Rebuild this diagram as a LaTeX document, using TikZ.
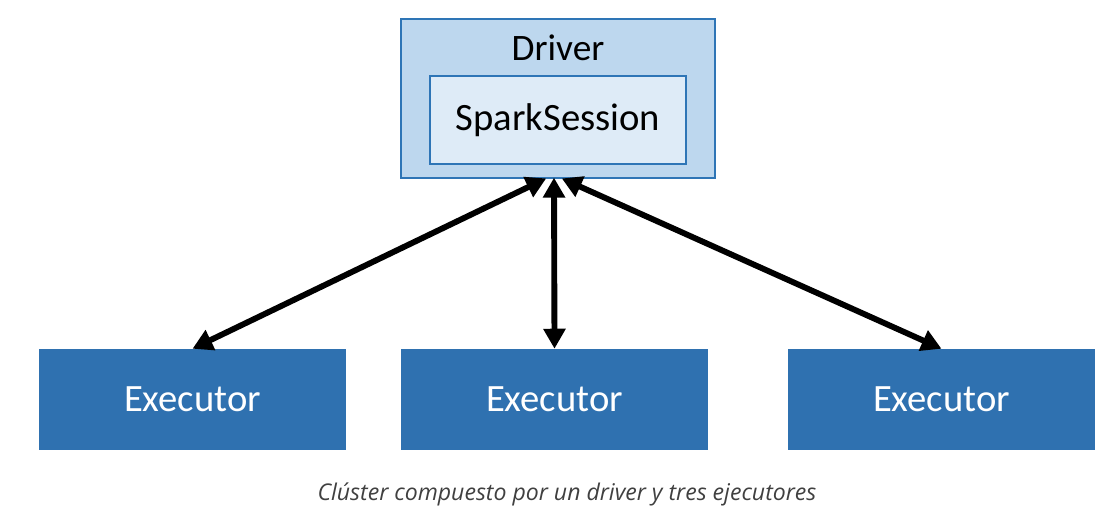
\documentclass[tikz,border=0pt]{standalone}
\usepackage{fontspec}
\setmainfont{Carlito}
\newfontfamily\capfont{Open Sans}
\usetikzlibrary{arrows.meta}
\definecolor{drvfill}{HTML}{BDD7EE}
\definecolor{sesfill}{HTML}{DEEBF7}
\definecolor{boxline}{HTML}{2E75B6}
\definecolor{execfill}{HTML}{2F71B0}

\begin{document}
\begin{tikzpicture}[x=0.75pt,y=-0.75pt,
    drvbox/.style={draw=boxline,line width=1.2pt,fill=drvfill,minimum width=235.5pt,minimum height=119.25pt},
    sesbox/.style={draw=boxline,line width=1.2pt,fill=sesfill,minimum width=192pt,minimum height=66pt,font=\fontsize{29}{33}\selectfont},
    execbox/.style={fill=execfill,minimum width=230.25pt,minimum height=75.75pt,text=white,font=\fontsize{29}{33}\selectfont},
    link/.style={line width=4.4pt,{Triangle[length=15pt,width=16pt]}-{Triangle[length=15pt,width=16pt]},shorten <=-1pt}]
    \useasboundingbox (0,0) rectangle (1113,517);
    \node[drvbox] (driver) at (558,98.5) {};
    \node[font=\fontsize{28}{32}\selectfont] (drvlabel) at (558,48) {Driver};
    \node[sesbox] (session) at (558,120) {SparkSession};
    \node[execbox] (exec1) at (192.5,399.5) {Executor};
    \node[execbox] (exec2) at (554.5,399.5) {Executor};
    \node[execbox] (exec3) at (941.5,399.5) {Executor};
    \coordinate (top1) at (545,179);
    \coordinate (top2) at (554,179);
    \coordinate (top3) at (563,179);
    \foreach \i in {1,2,3}
      \draw[link] (top\i) -- (exec\i.north);
    \node[font=\capfont\itshape\fontsize{17.3}{21}\selectfont,text=black!75] (caption) at (567,494) {Clúster compuesto por un driver y tres ejecutores};
\end{tikzpicture}
\end{document}
